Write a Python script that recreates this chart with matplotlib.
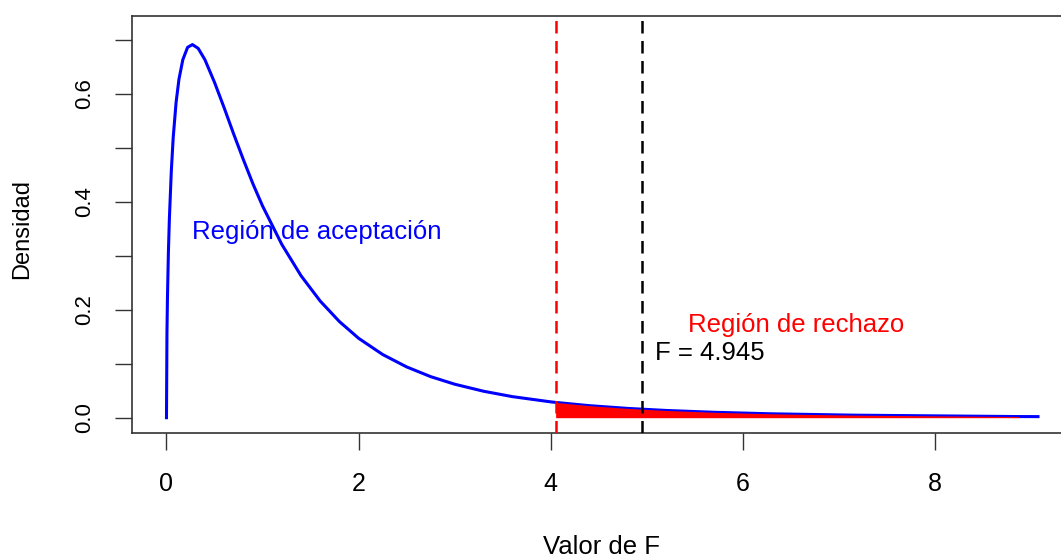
import numpy as np
import matplotlib.pyplot as plt

# puntos de la curva de densidad
valores_f = [0.0, 0.005, 0.01, 0.02, 0.03, 0.05, 0.07, 0.1, 0.13, 0.17, 0.22, 0.27,
             0.33, 0.4, 0.5, 0.6, 0.7, 0.8, 0.9, 1.0, 1.2, 1.4, 1.6, 1.8, 2.0,
             2.25, 2.5, 2.75, 3.0, 3.3, 3.6, 4.0, 4.05, 4.4, 4.8, 5.2, 5.7, 6.3,
             7.15, 8.87, 9.07]
densidad = [0.0, 0.158, 0.221, 0.307, 0.368, 0.456, 0.519, 0.584, 0.627, 0.663,
            0.686, 0.691, 0.684, 0.663, 0.621, 0.574, 0.525, 0.478, 0.433, 0.392,
            0.321, 0.263, 0.216, 0.178, 0.147, 0.117, 0.094, 0.076, 0.062, 0.049,
            0.039, 0.0293, 0.0283, 0.0223, 0.0172, 0.0134, 0.0100, 0.0072,
            0.0047, 0.0021, 0.0020]

f_critico = 4.05
f_calculado = 4.945
fin_rechazo = 8.87

plt.rcParams['font.family'] = ['Liberation Sans', 'DejaVu Sans']

x = np.array(valores_f)
y = np.array(densidad)

fig = plt.figure(figsize=(10.61, 5.57), dpi=100)
ax = fig.add_axes([131.7 / 1061, (557 - 433.3) / 557, (1074.5 - 131.7) / 1061, (433.3 - 15.7) / 557])

ax.plot(x, y, color='blue', lw=2.2, zorder=2)
zona = (x >= f_critico) & (x <= fin_rechazo)
ax.fill_between(x[zona], y[zona], 0, color='red', lw=0, zorder=3)

ax.axvline(f_critico, color='red', ls=(0, (5, 3)), lw=1.8, zorder=4)
ax.axvline(f_calculado, color='black', ls=(0, (5, 3)), lw=1.8, zorder=4)

ax.text(1.563, 0.343, "Región de aceptación", color='blue', fontsize=18.5, ha='center', va='center')
ax.text(6.55, 0.172, "Región de rechazo", color='red', fontsize=18.5, ha='center', va='center')
ax.text(5.08, 0.120, "F = 4.945", color='black', fontsize=18.5, ha='left', va='center')

ax.set_xlim(-0.362, 9.45)
ax.set_ylim(-0.0289, 0.7445)
ax.set_xticks([0, 2, 4, 6, 8])
ax.set_yticks([0.0, 0.1, 0.2, 0.3, 0.4, 0.5, 0.6, 0.7])
ax.set_yticklabels(['0.0', '', '0.2', '', '0.4', '', '0.6', ''])
ax.tick_params(axis='x', length=12.2, width=1.0, color='#333333', labelsize=18, pad=16)
ax.tick_params(axis='y', length=12, width=1.0, color='#333333', labelsize=16, pad=14, labelrotation=90)
for lab in ax.get_yticklabels():
    lab.set_va('center')

for s in ax.spines.values():
    s.set_color('#333333')
    s.set_linewidth(1.2)

ax.set_xlabel("Valor de F", fontsize=18.5, va='center')
ax.xaxis.set_label_coords(0.498, -0.272)
ax.set_ylabel("Densidad", fontsize=17, va='center')
ax.yaxis.set_label_coords(-0.1164, 0.49)

fig.savefig("out.png", dpi=100)
